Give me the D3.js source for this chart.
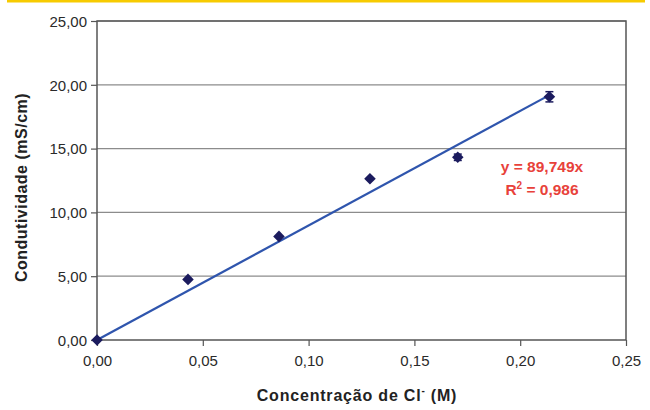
<!DOCTYPE html>
<html>
<head>
<meta charset="utf-8">
<script src="https://d3js.org/d3.v7.min.js"></script>
<style>
  body { margin: 0; background: #fff; }
  text { font-family: "Liberation Sans", Arial, sans-serif; }
</style>
</head>
<body>
<div id="chart"></div>
<script>
"use strict"

// dados
var concentracao = [0, 0.043, 0.086, 0.129, 0.1705, 0.2138];
var condutividade = [0, 4.75, 8.12, 12.63, 14.32, 19.06];
var erro = [0, 0.1, 0.1, 0.15, 0.25, 0.4];
var inclinacao = 89.749;
var xTicks = [0, 0.05, 0.10, 0.15, 0.20, 0.25];
var yTicks = [0, 5, 10, 15, 20, 25];

var largura = 650, altura = 410;
var margin = {top: 21, right: 24, bottom: 70, left: 97};

var svg = d3.select('#chart').append('svg')
  .attr('width', largura).attr('height', altura);

// faixa amarela no topo
svg.append('rect').attr('x', 7).attr('y', 0).attr('width', 638).attr('height', 2.5).attr('fill', '#f7cb00');

var x = d3.scaleLinear().domain([0, 0.25]).range([margin.left, largura - margin.right]);
var y = d3.scaleLinear().domain([0, 25]).range([altura - margin.bottom, margin.top]);

var fmt = d3.format('.2f');
var virgula = function(d) { return fmt(d).replace('.', ','); };

// grade
svg.append('g').selectAll('line').data(yTicks.slice(1)).enter().append('line')
  .attr('x1', x(0)).attr('x2', x(0.25))
  .attr('y1', d => y(d)).attr('y2', d => y(d))
  .attr('stroke', '#8c8c8c').attr('stroke-width', 1.2);

// eixos
var eixoX = svg.append('g').attr('transform', 'translate(0,' + y(0) + ')')
  .call(d3.axisBottom(x).tickValues(xTicks).tickFormat(virgula).tickSize(6).tickSizeOuter(0));
var eixoY = svg.append('g').attr('transform', 'translate(' + x(0) + ',0)')
  .call(d3.axisLeft(y).tickValues(yTicks).tickFormat(virgula).tickSize(6).tickSizeOuter(0));

[eixoX, eixoY].forEach(function(g) {
  g.select('.domain').remove();
  g.selectAll('line').attr('stroke', '#555').attr('stroke-width', 1.2);
  g.selectAll('text').attr('fill', '#2a2a2a').style('font-size', '15px');
});
eixoX.selectAll('text').attr('dy', '1.15em');
eixoY.selectAll('text').attr('x', -10).attr('dy', '0.35em');

// moldura
svg.append('rect')
  .attr('x', x(0)).attr('y', y(25))
  .attr('width', x(0.25) - x(0)).attr('height', y(0) - y(25))
  .attr('fill', 'none').attr('stroke', '#555').attr('stroke-width', 1.5);

// reta de tendencia
var xmax = d3.max(concentracao);
svg.append('line')
  .attr('x1', x(0)).attr('y1', y(0))
  .attr('x2', x(xmax)).attr('y2', y(inclinacao * xmax))
  .attr('stroke', '#2f55ad').attr('stroke-width', 2.2);

var pontos = concentracao.map((c, i) => ({c: c, v: condutividade[i], e: erro[i]}));

// barras de erro
var eb = svg.append('g').attr('stroke', '#1b1b5e').attr('stroke-width', 1.5);
pontos.filter(d => d.e > 0.2).forEach(function(d) {
  eb.append('line').attr('x1', x(d.c)).attr('x2', x(d.c)).attr('y1', y(d.v - d.e)).attr('y2', y(d.v + d.e));
  eb.append('line').attr('x1', x(d.c) - 4).attr('x2', x(d.c) + 4).attr('y1', y(d.v - d.e)).attr('y2', y(d.v - d.e));
  eb.append('line').attr('x1', x(d.c) - 4).attr('x2', x(d.c) + 4).attr('y1', y(d.v + d.e)).attr('y2', y(d.v + d.e));
});

// marcadores losango
svg.append('g').selectAll('path').data(pontos).enter().append('path')
  .attr('d', d3.symbol().type(d3.symbolDiamond2).size(85))
  .attr('transform', d => 'translate(' + x(d.c) + ',' + y(d.v) + ')')
  .attr('fill', '#1b1b5e');

// equacao
var eq = svg.append('text').attr('fill', '#e8413a').attr('font-weight', 'bold').style('font-size', '15.5px')
  .attr('text-anchor', 'middle');
eq.append('tspan').attr('x', 542).attr('y', 172).text('y = 89,749x');
var r2 = svg.append('text').attr('fill', '#e8413a').attr('font-weight', 'bold').style('font-size', '15.5px')
  .attr('text-anchor', 'middle').attr('x', 542).attr('y', 195);
r2.append('tspan').text('R');
r2.append('tspan').attr('dy', -6).style('font-size', '10px').text('2');
r2.append('tspan').attr('dy', 6).text(' = 0,986');

// titulos dos eixos
svg.append('text').attr('x', 357).attr('y', 401)
  .attr('text-anchor', 'middle').attr('font-weight', 'bold').style('font-size', '16px').attr('fill', '#222')
  .style('letter-spacing', '0.8px')
  .call(function(t) {
    t.append('tspan').text('Concentração de Cl');
    t.append('tspan').attr('dy', -7).style('font-size', '10px').text('-');
    t.append('tspan').attr('dy', 7).text(' (M)');
  });

svg.append('text').attr('transform', 'translate(27,' + ((y(0) + y(25)) / 2 + 7) + ') rotate(-90)')
  .attr('text-anchor', 'middle').attr('font-weight', 'bold').style('font-size', '16px').attr('fill', '#222')
  .style('letter-spacing', '0.5px')
  .text('Condutividade (mS/cm)');
</script>
</body>
</html>
